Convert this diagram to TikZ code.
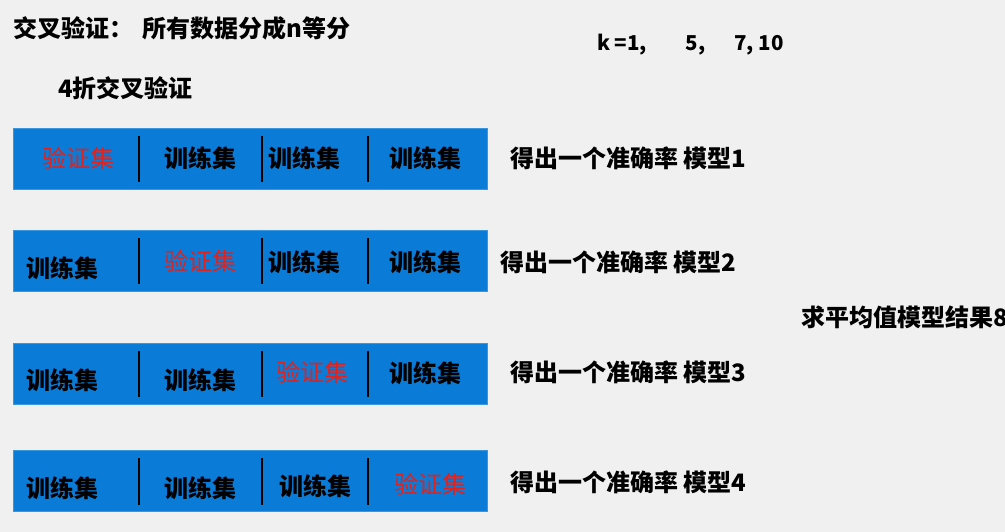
\documentclass[tikz,border=0pt]{standalone}
\usepackage{fontspec}
\setmainfont{Noto Sans CJK SC}
\usepackage{xcolor}
\usepackage{tikz}
\usetikzlibrary{positioning}
\definecolor{bggray}{HTML}{F0F0F0}
\definecolor{barblue}{HTML}{0A7CD8}
\definecolor{valred}{HTML}{E3211B}

\begin{document}
\begin{tikzpicture}[x=1pt, y=-1pt, font=\bfseries\fontsize{24}{27}\selectfont,
  bar/.style={fill=barblue, draw=barblue!80!white, minimum width=474pt,
              minimum height=61pt, inner sep=0pt},
  divider/.style={draw=black, line width=1.8pt},
  cell/.style={inner sep=0pt, text=black},
  valset/.style={cell, text=valred, font=\mdseries\fontsize{24}{27}\selectfont},
  note/.style={anchor=west, inner sep=0pt}]
  \fill[bggray] (0,0) rectangle (1005,532);
  \useasboundingbox (0,0) rectangle (1005,532);
  \node[note] (title) at (13,28) {交叉验证：\hspace{0.4em}所有数据分成n等分};
  \node[note] (fold) at (58,88) {4折交叉验证};
  \node[note, font=\bfseries\fontsize{20.5}{24}\selectfont] (kvals) at (597,45)
     {k =1,\hspace{1.9em}5,\hspace{1.4em}7, 10};
  \foreach \n/\y in {1/158.5, 2/260.5, 3/373.5, 4/481}
     \node[bar] (bar\n) at (250,\y) {};
  \foreach \n in {1,...,4}
     \foreach \x in {139,262,368}
        \draw[divider] ([shift={(\x-13,8)}]bar\n.north west)
                    -- ([shift={(\x-13,-7)}]bar\n.south west);
  \foreach \id/\x/\y/\s/\t in {c11/78/158/valset/验证集, c12/200/158/cell/训练集,
                               c13/304/158/cell/训练集, c14/425/158/cell/训练集,
                               c21/63/268/cell/训练集, c22/200/261/valset/验证集,
                               c23/304/262/cell/训练集, c24/425/262/cell/训练集,
                               c31/63/380/cell/训练集, c32/200/380/cell/训练集,
                               c33/312/372/valset/验证集, c34/425/373/cell/训练集,
                               c41/63/488/cell/训练集, c42/200/488/cell/训练集,
                               c43/315/486/cell/训练集, c44/430/484/valset/验证集}
     \node[\s] (\id) at (\x,\y) {\t};
  \foreach \n/\x/\y in {1/510/158, 2/500/262, 3/510/372, 4/510/482}
     \node[note] (acc\n) at (\x,\y) {得出一个准确率 模型\n};
  \node[note] (avg) at (801,317) {求平均值模型结果8};
\end{tikzpicture}
\end{document}
